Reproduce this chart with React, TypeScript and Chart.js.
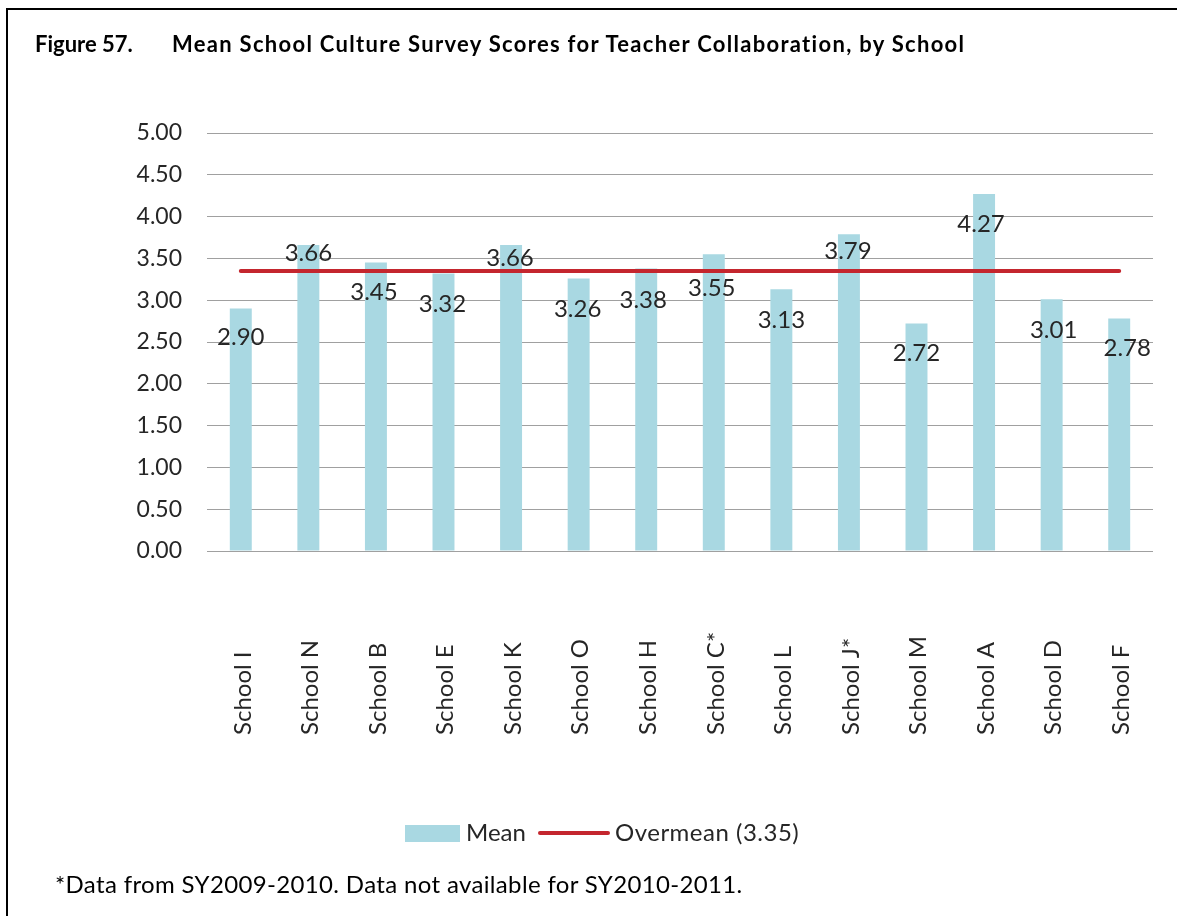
import React, { useEffect, useRef } from "react";
import { Chart, registerables } from "chart.js";

Chart.register(...registerables);

// ---- data ----
const schools = [
  "School I", "School N", "School B", "School E", "School K", "School O", "School H",
  "School C*", "School L", "School J*", "School M", "School A", "School D", "School F",
];
const meanScores = [2.90, 3.66, 3.45, 3.32, 3.66, 3.26, 3.38, 3.55, 3.13, 3.79, 2.72, 4.27, 3.01, 2.78];
const overmean = [3.35, 3.35, 3.35, 3.35, 3.35, 3.35, 3.35, 3.35, 3.35, 3.35, 3.35, 3.35, 3.35, 3.35];
const yMin = 0;
const yMax = 5;
const yStep = 0.5;

// ---- label placement (style only, in px relative to bar top) ----
const labelDx = [0, 0, -2, -1, -1, -1, -3, -2, 0, -1, 0, -3, 2, 8];
const labelDy = [29, 8, 30, 31, 13, 31, 32, 34, 31, 17, 30, 30, 31, 30];

const BAR_COLOR = "#A9D8E2";
const LINE_COLOR = "#C4262E";
const TEXT_COLOR = "#262626";
const FONT = "Lato";

const valueLabelPlugin = {
  id: "valueLabels",
  afterDatasetsDraw(chart: any) {
    const meta = chart.getDatasetMeta(0);
    const ctx = chart.ctx;
    ctx.save();
    ctx.font = `24px ${FONT}`;
    ctx.fillStyle = TEXT_COLOR;
    ctx.textAlign = "center";
    ctx.textBaseline = "middle";
    meta.data.forEach((bar: any, i: number) => {
      ctx.fillText(meanScores[i].toFixed(2), bar.x + labelDx[i], bar.y + labelDy[i]);
    });
    ctx.restore();
  },
};

const categoryLabelPlugin = {
  id: "categoryLabels",
  afterDraw(chart: any) {
    const xScale = chart.scales.x;
    const ctx = chart.ctx;
    ctx.save();
    ctx.font = `24px ${FONT}`;
    ctx.fillStyle = TEXT_COLOR;
    ctx.textAlign = "left";
    ctx.textBaseline = "middle";
    schools.forEach((name, i) => {
      const x = xScale.getPixelForValue(i) + 2;
      ctx.save();
      ctx.translate(x, 735);
      ctx.rotate(-Math.PI / 2);
      ctx.fillText(name, 0, 0);
      ctx.restore();
    });
    ctx.restore();
  },
};

export default function App() {
  const canvasRef = useRef<HTMLCanvasElement | null>(null);

  useEffect(() => {
    if (!canvasRef.current) return;
    const chart = new Chart(canvasRef.current, {
      type: "bar",
      data: {
        labels: schools,
        datasets: [
          {
            type: "bar",
            label: "Mean",
            data: meanScores,
            backgroundColor: BAR_COLOR,
            borderWidth: 0,
            categoryPercentage: 1,
            barPercentage: 0.325,
            order: 1,
          },
          {
            type: "line",
            label: "Overmean (3.35)",
            data: overmean,
            borderColor: LINE_COLOR,
            backgroundColor: LINE_COLOR,
            borderWidth: 4,
            borderCapStyle: "round",
            pointRadius: 0,
            fill: false,
            order: 0,
          } as any,
        ],
      },
      options: {
        animation: false,
        responsive: false,
        maintainAspectRatio: false,
        layout: { padding: { left: 0, top: 133, right: 24, bottom: 365 } },
        plugins: {
          legend: { display: false },
          tooltip: { enabled: false },
          title: { display: false },
        },
        scales: {
          x: {
            grid: { display: false, drawTicks: false },
            border: { display: false },
            ticks: { display: false },
            afterFit(scale: any) {
              scale.height = 0;
            },
          },
          y: {
            min: yMin,
            max: yMax,
            grid: { color: "#A0A0A0", lineWidth: 1, drawTicks: false },
            border: { display: false },
            ticks: {
              stepSize: yStep,
              padding: 25,
              color: TEXT_COLOR,
              font: { family: FONT, size: 23 },
              callback: (v: any) => Number(v).toFixed(2),
            },
            afterFit(scale: any) {
              scale.width = 207;
            },
          },
        },
      },
      plugins: [valueLabelPlugin, categoryLabelPlugin],
    });
    return () => chart.destroy();
  }, []);

  const abs = (extra: React.CSSProperties): React.CSSProperties => ({
    position: "absolute",
    whiteSpace: "nowrap",
    ...extra,
  });

  return (
    <div
      style={{
        position: "absolute",
        left: 0,
        top: 0,
        width: 1177,
        height: 916,
        overflow: "hidden",
        background: "#fff",
        fontFamily: FONT,
        color: TEXT_COLOR,
      }}
    >
      <div
        style={abs({
          left: 6,
          top: 8,
          width: 1300,
          height: 1000,
          borderLeft: "2px solid #000",
          borderTop: "2px solid #000",
        })}
      />
      <canvas
        ref={canvasRef}
        width={1177}
        height={916}
        style={{ position: "absolute", left: 0, top: 0, width: 1177, height: 916 }}
      />
      <div
        style={abs({
          left: 35,
          top: 33,
          fontSize: 22,
          lineHeight: "22px",
          fontWeight: 700,
          color: "#000",
        })}
      >
        <span>Figure 57.</span>
        <span style={{ position: "absolute", left: 137, letterSpacing: "1.3px" }}>
          Mean School Culture Survey Scores for Teacher Collaboration, by School
        </span>
      </div>
      {/* legend */}
      <div style={abs({ left: 405, top: 825, width: 55, height: 17, background: BAR_COLOR })} />
      <div style={abs({ left: 466, top: 820, fontSize: 24, lineHeight: "24px" })}>Mean</div>
      <div
        style={abs({
          left: 538,
          top: 831,
          width: 72,
          height: 4,
          borderRadius: 2,
          background: LINE_COLOR,
        })}
      />
      <div
        style={abs({ left: 615, top: 820, fontSize: 24, lineHeight: "24px", letterSpacing: "0.5px" })}
      >
        Overmean (3.35)
      </div>
      <div
        style={abs({
          left: 55,
          top: 872,
          fontSize: 24,
          lineHeight: "24px",
          color: "#000",
          letterSpacing: "0.35px",
        })}
      >
        *Data from SY2009-2010. Data not available for SY2010-2011.
      </div>
    </div>
  );
}
